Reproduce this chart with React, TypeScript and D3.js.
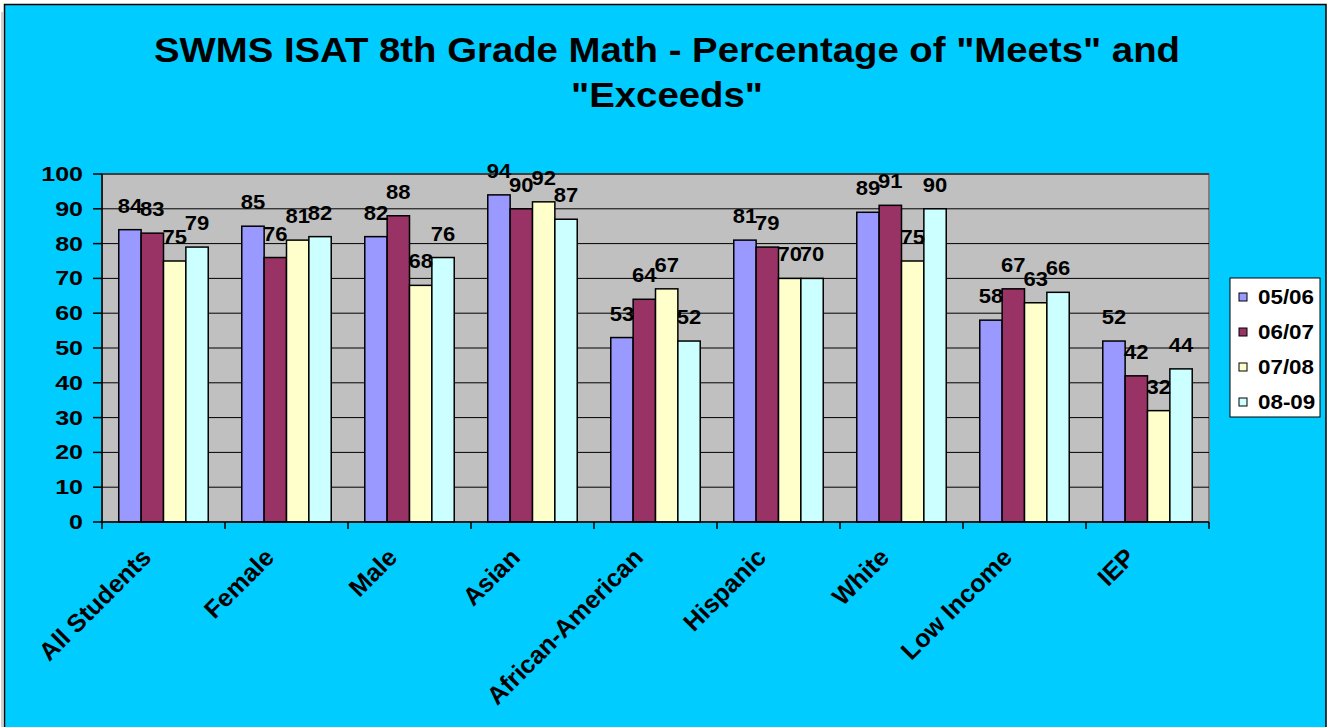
import React from "react";
import * as d3 from "d3";

const categories = ["All Students", "Female", "Male", "Asian", "African-American", "Hispanic", "White", "Low Income", "IEP"];
const seriesNames = ["05/06", "06/07", "07/08", "08-09"];
const s0506 = [84, 85, 82, 94, 53, 81, 89, 58, 52];
const s0607 = [83, 76, 88, 90, 64, 79, 91, 67, 42];
const s0708 = [75, 81, 68, 92, 67, 70, 75, 63, 32];
const s0809 = [79, 82, 76, 87, 52, 70, 90, 66, 44];
const yTicks = [0, 10, 20, 30, 40, 50, 60, 70, 80, 90, 100];
const titleLines = ["SWMS ISAT 8th Grade Math - Percentage of \"Meets\" and", "\"Exceeds\""];

const seriesValues = [s0506, s0607, s0708, s0809];
const colors = ["#9999FF", "#993366", "#FFFFCC", "#CCFFFF"];

const W = 1328;
const H = 727;
const plot = { left: 102, right: 1209, top: 174, bottom: 522 };
const FONT = "'Liberation Sans', Arial, sans-serif";

export default function App() {
  const x = d3.scaleBand<string>().domain(categories).range([plot.left, plot.right]).padding(0);
  const xs = d3.scaleBand<string>().domain(seriesNames).range([0, x.bandwidth()]).paddingInner(0).paddingOuter(0.75);
  const y = d3.scaleLinear().domain([0, 100]).range([plot.bottom, plot.top]);

  const legend = { x: 1230, y: 278, w: 90, h: 139 };

  return (
    <div style={{ position: "absolute", left: 0, top: 0, width: W, height: H, overflow: "hidden" }}>
      <svg width={W} height={H} style={{ display: "block" }} fontFamily={FONT}>
        <rect x={0} y={0} width={W} height={H} fill="#ffffff" />
        <line x1={2} y1={12} x2={2} y2={H} stroke="#a0a0a0" strokeWidth={1} />
        <rect x={4.5} y={4.5} width={1321.5} height={740} fill="#00CCFF" stroke="#000" strokeWidth={1.5} />

        {/* Title */}
        {titleLines.map((t, i) => (
          <g key={i} transform={`translate(667,${62 + i * 45}) scale(1.08,1)`}>
            <text textAnchor="middle" fontSize={35.5} fontWeight="bold" fill="#000">{t}</text>
          </g>
        ))}

        {/* Plot area */}
        <rect x={plot.left} y={plot.top} width={plot.right - plot.left} height={plot.bottom - plot.top} fill="#C0C0C0" stroke="#808080" strokeWidth={2} />

        {/* Gridlines */}
        {yTicks.filter(t => t > 0).map(t => (
          <line key={t} x1={plot.left} x2={plot.right} y1={y(t)} y2={y(t)} stroke="#000" strokeWidth={1} />
        ))}

        {/* Bars */}
        {categories.map((c, ci) => (
          <g key={c}>
            {seriesNames.map((s, si) => {
              const v = seriesValues[si][ci];
              const bx = (x(c) as number) + (xs(s) as number);
              return (
                <rect key={s} x={bx} y={y(v)} width={xs.bandwidth()} height={y(0) - y(v)} fill={colors[si]} stroke="#000" strokeWidth={1.5} />
              );
            })}
          </g>
        ))}

        {/* Data labels */}
        {categories.map((c, ci) => (
          <g key={c + "-lab"}>
            {seriesNames.map((s, si) => {
              const v = seriesValues[si][ci];
              const cx = (x(c) as number) + (xs(s) as number) + xs.bandwidth() / 2;
              return (
                <g key={s} transform={`translate(${cx},${y(v) - 17}) scale(1.1,1)`}>
                  <text textAnchor="middle" fontSize={20} fontWeight="bold" fill="#000">{v}</text>
                </g>
              );
            })}
          </g>
        ))}

        {/* Axes */}
        <line x1={plot.left} x2={plot.left} y1={plot.top} y2={plot.bottom} stroke="#000" strokeWidth={1.5} />
        <line x1={plot.left} x2={plot.right} y1={plot.bottom} y2={plot.bottom} stroke="#000" strokeWidth={1.5} />
        {yTicks.map(t => (
          <g key={"yt" + t}>
            <line x1={plot.left - 9} x2={plot.left} y1={y(t)} y2={y(t)} stroke="#000" strokeWidth={1.5} />
            <g transform={`translate(83,${y(t) + 7}) scale(1.25,1)`}>
              <text textAnchor="end" fontSize={20} fontWeight="bold" fill="#000">{t}</text>
            </g>
          </g>
        ))}
        {categories.concat([""]).map((c, i) => {
          const xx = plot.left + i * x.step();
          return <line key={"xt" + i} x1={xx} x2={xx} y1={plot.bottom} y2={plot.bottom + 7} stroke="#000" strokeWidth={1.5} />;
        })}
        {categories.map(c => {
          const cx = (x(c) as number) + x.bandwidth() / 2;
          return (
            <g key={"xl" + c} transform={`translate(${cx - 11},559) rotate(-45)`}>
              <text textAnchor="end" fontSize={25} fontWeight="bold" fill="#000">{c}</text>
            </g>
          );
        })}

        {/* Legend */}
        <rect x={legend.x} y={legend.y} width={legend.w} height={legend.h} fill="#fff" stroke="#000" strokeWidth={1} />
        {seriesNames.map((s, i) => {
          const cy = legend.y + 19 + i * 35;
          return (
            <g key={"lg" + s}>
              <rect x={1239} y={cy - 4} width={8} height={8} fill={colors[i]} stroke="#000" strokeWidth={1} />
              <g transform={`translate(1258,${cy + 7}) scale(1.12,1)`}>
                <text fontSize={20} fontWeight="bold" fill="#000">{s}</text>
              </g>
            </g>
          );
        })}
      </svg>
    </div>
  );
}
